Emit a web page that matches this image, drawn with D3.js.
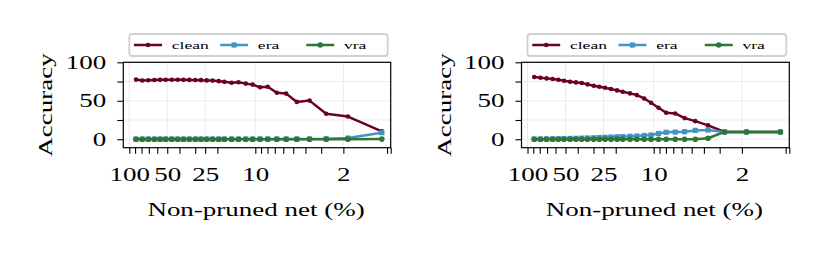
<!DOCTYPE html>
<html>
<head>
<meta charset="utf-8">
<script src="https://cdn.jsdelivr.net/npm/d3@7"></script>
<style>
  html, body { margin: 0; padding: 0; background: #fff; }
  svg { display: block; }
</style>
</head>
<body>
<svg id="chart" width="831" height="256"></svg>
<script>
// ---------------- data ----------------
const xValues = [88.5, 78.9, 70.7, 63.3, 57.0, 51.4, 46.0, 41.3, 37.2, 33.4, 29.9, 27.0, 24.3, 21.8, 19.5,
                 17.6, 15.4, 13.6, 11.9, 10.5, 9.16, 7.96, 6.75, 5.69, 4.68, 3.71, 2.74, 1.84, 0.99];

const seriesNames = ["clean", "era", "vra"];

const cleanLeft = [77.5, 76.3, 76.7, 77.0, 77.2, 77.3, 77.3, 77.3, 77.2, 77.1, 77.0, 76.8, 76.5, 76.2, 75.5,
                   74.6, 73.5, 74.0, 72.3, 71.0, 67.5, 68.3, 60.5, 59.3, 48.5, 50.2, 33.2, 29.5, 10.2];
const eraLeft   = [0.2, 0.2, 0.2, 0.2, 0.2, 0.2, 0.2, 0.2, 0.2, 0.2, 0.2, 0.2, 0.2, 0.2, 0.2,
                   0.2, 0.2, 0.2, 0.2, 0.2, 0.3, 0.3, 0.3, 0.3, 0.4, 0.4, 0.6, 1.5, 8.5];
const vraLeft   = [0, 0, 0, 0, 0, 0, 0, 0, 0, 0, 0, 0, 0, 0, 0,
                   0, 0, 0, 0, 0, 0, 0, 0, 0, 0, 0, 0, 0, 0.2];

const cleanRight = [80.9, 80.0, 79.1, 78.3, 77.4, 76.1, 74.8, 73.9, 73.1, 71.3, 69.6, 68.3, 67.0, 65.2, 63.5,
                    61.7, 59.6, 57.4, 53.0, 47.5, 41.0, 34.5, 33.5, 27.5, 23.5, 18.0, 9.5, 9.5, 9.5];
const eraRight   = [0.2, 0.3, 0.4, 0.5, 0.6, 0.8, 1.0, 1.2, 1.4, 1.6, 1.9, 2.2, 2.5, 2.8, 3.1,
                    3.4, 3.8, 4.2, 4.8, 5.5, 7.5, 9.0, 9.3, 9.8, 11.5, 12.0, 9.5, 9.5, 9.5];
const vraRight   = [0, 0, 0, 0, 0, 0, 0, 0, 0, 0, 0, 0, 0, 0, 0,
                    0, 0, 0, 0, 0, 0, 0, 0, 0, 0, 1.3, 9.5, 9.5, 9.5];

const xTickLabels = [100, 50, 25, 10, 2];
const xMinorTicks = [90, 80, 70, 60, 40, 30, 20, 9, 8, 7, 6, 5, 4, 3, 0.9];
const yTicks = [0, 25, 50, 75, 100];
const yTickLabels = [0, 50, 100];
const xDomain = [111.6, 0.842];
const yDomain = [-11, 100];

const xLabel = "Non-pruned net (%)";
const yLabel = "Accuracy";

// ---------------- style ----------------
const colors = { clean: "#6b0026", era: "#4393c3", vra: "#2f7534" };
const FONT = "'Liberation Serif', 'DejaVu Serif', serif";
const FS = 19;          // axis text size
const LFS = 11;         // legend text size
const STRETCH = 1.42;   // horizontal glyph stretch
const LSTRETCH = 1.6;

const panels = [
  { x0: 123.3, x1: 390.7, data: { clean: cleanLeft, era: eraLeft, vra: vraLeft } },
  { x0: 521.5, x1: 789.3, data: { clean: cleanRight, era: eraRight, vra: vraRight } }
];
const Y0 = 62.3, Y1 = 147.7;
const TICK = 6;

const svg = d3.select("#chart");

function stretch(sel, s) {
  sel.each(function () {
    const t = d3.select(this);
    const x = +t.attr("x") || 0, y = +t.attr("y") || 0;
    t.attr("x", null).attr("y", null)
     .attr("transform", `translate(${x},${y}) scale(${s},1)`);
  });
}

panels.forEach(p => {
  const x = d3.scaleLog().domain(xDomain).range([p.x0, p.x1]);
  const y = d3.scaleLinear().domain(yDomain).range([Y1, Y0]);
  const g = svg.append("g");

  // grid
  g.append("g").selectAll("line.gx").data(xTickLabels).join("line")
    .attr("x1", d => x(d)).attr("x2", d => x(d)).attr("y1", Y0).attr("y2", Y1)
    .attr("stroke", "#e6e6e6").attr("stroke-width", 0.8);
  g.append("g").selectAll("line.gy").data(yTicks).join("line")
    .attr("x1", p.x0).attr("x2", p.x1).attr("y1", d => y(d)).attr("y2", d => y(d))
    .attr("stroke", "#e6e6e6").attr("stroke-width", 0.8);

  // series
  const clip = "clip" + Math.round(p.x0);
  svg.append("clipPath").attr("id", clip).append("rect")
    .attr("x", p.x0).attr("y", Y0 - 5).attr("width", p.x1 - p.x0 + 5).attr("height", Y1 - Y0 + 5);
  const sg = g.append("g").attr("clip-path", `url(#${clip})`);
  seriesNames.forEach(name => {
    const vals = p.data[name];
    const pts = xValues.map((xv, i) => [xv, vals[i]]);
    sg.append("path").datum(pts)
      .attr("fill", "none").attr("stroke", colors[name]).attr("stroke-width", 2.5)
      .attr("stroke-linejoin", "round")
      .attr("d", d3.line().x(d => x(d[0])).y(d => y(d[1])));
    if (name === "era") {
      sg.append("g").selectAll("rect").data(pts).join("rect")
        .attr("x", d => x(d[0]) - 2.6).attr("y", d => y(d[1]) - 2.6)
        .attr("width", 5.2).attr("height", 5.2).attr("fill", colors[name]);
    } else {
      sg.append("g").selectAll("circle").data(pts).join("circle")
        .attr("cx", d => x(d[0])).attr("cy", d => y(d[1]))
        .attr("r", name === "clean" ? 2.3 : 2.8).attr("fill", colors[name]);
    }
  });

  // axes
  const xAxis = d3.axisBottom(x).tickValues(xTickLabels.concat(xMinorTicks).concat([xDomain[1]]))
    .tickSize(TICK).tickPadding(13.5)
    .tickFormat(d => xTickLabels.includes(d) ? String(d) : "");
  const gx = g.append("g").attr("transform", `translate(0,${Y1})`).call(xAxis);
  const yAxis = d3.axisLeft(y).tickValues(yTicks).tickSize(TICK).tickPadding(11)
    .tickFormat(d => yTickLabels.includes(d) ? String(d) : "");
  const gy = g.append("g").attr("transform", `translate(${p.x0},0)`).call(yAxis);
  [gx, gy].forEach(a => {
    a.select(".domain").remove();
    a.selectAll(".tick line").attr("stroke", "#000").attr("stroke-width", 1.1);
    a.selectAll("text").attr("font-family", FONT).attr("font-size", FS).attr("fill", "#000");
  });
  stretch(gx.selectAll("text"), STRETCH);
  stretch(gy.selectAll("text"), STRETCH);

  // frame
  g.append("rect").attr("x", p.x0).attr("y", Y0).attr("width", p.x1 - p.x0).attr("height", Y1 - Y0)
    .attr("fill", "none").attr("stroke", "#000").attr("stroke-width", 1.2);

  // labels
  g.append("text").text(xLabel)
    .attr("font-family", FONT).attr("font-size", FS).attr("text-anchor", "middle").attr("fill", "#000")
    .attr("transform", `translate(${(p.x0 + p.x1) / 2 - 1},216) scale(${STRETCH},1)`);
  g.append("text").text(yLabel)
    .attr("font-family", FONT).attr("font-size", FS).attr("text-anchor", "middle").attr("fill", "#000")
    .attr("transform", `translate(${p.x0 - 71},${(Y0 + Y1) / 2}) rotate(-90) scale(${STRETCH},1)`);

  // legend
  const lx = p.x0 + 6, lw = (p.x1 - p.x0) - 9, ly = 34, lh = 22;
  const lg = g.append("g");
  lg.append("rect").attr("x", lx).attr("y", ly).attr("width", lw).attr("height", lh)
    .attr("rx", 3).attr("fill", "#fff").attr("stroke", "#d0d0d0").attr("stroke-width", 1.8);
  seriesNames.forEach((name, i) => {
    const sx = lx + 4.7 + i * (lw / 3);
    const cy = ly + lh / 2;
    lg.append("line").attr("x1", sx).attr("x2", sx + 28).attr("y1", cy).attr("y2", cy)
      .attr("stroke", colors[name]).attr("stroke-width", 2.5);
    if (name === "era") {
      lg.append("rect").attr("x", sx + 14 - 2.6).attr("y", cy - 2.6).attr("width", 5.2).attr("height", 5.2)
        .attr("fill", colors[name]);
    } else {
      lg.append("circle").attr("cx", sx + 14).attr("cy", cy).attr("r", name === "clean" ? 2.3 : 2.8)
        .attr("fill", colors[name]);
    }
    lg.append("text").text(name)
      .attr("font-family", FONT).attr("font-size", LFS).attr("fill", "#000")
      .attr("transform", `translate(${sx + 37.7},${cy + 3.5}) scale(${LSTRETCH},1)`);
  });
});
</script>
</body>
</html>
